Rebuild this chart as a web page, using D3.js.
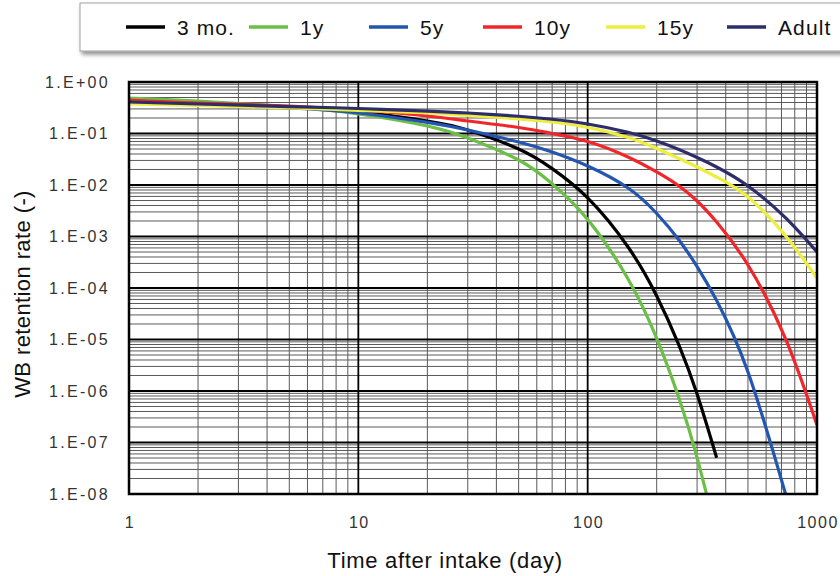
<!DOCTYPE html>
<html>
<head>
<meta charset="utf-8">
<script src="https://cdn.jsdelivr.net/npm/d3@7"></script>
<style>
  body { margin: 0; background: #fff; }
  svg { display: block; font-family: "Liberation Sans", Arial, sans-serif; }
</style>
</head>
<body>
<div id="chart"></div>
<script>
// days after intake (common x grid)
const days = [1, 2, 5, 10, 20, 30, 50, 70, 100, 150, 200, 250, 300, 365, 500, 730, 1000];

// WB retention rate per age group (null = no data)
const mo3   = [0.437, 0.391, 0.327, 0.262, 0.175, 0.117, 0.0500, 0.0208, 5.6e-3, 6.25e-4, 7.0e-5, 7.8e-6, 8.7e-7, 5.07e-8, null, null, null];
const y1    = [0.489, 0.428, 0.327, 0.239, 0.140, 0.0818, 0.0306, 0.01055, 2.14e-3, 1.50e-4, 1.05e-5, 7.3e-7, 5.1e-8, 1.6e-9, null, null, null];
const y5    = [0.428, 0.374, 0.313, 0.250, 0.164, 0.117, 0.0684, 0.0437, 0.0234, 8.74e-3, 2.80e-3, 8.55e-4, 2.61e-4, 5.7e-5, 2.34e-6, 9.8e-9, null];
const y10   = [0.447, 0.391, 0.342, 0.286, 0.219, 0.175, 0.131, 0.100, 0.0700, 0.0350, 0.0179, 9.57e-3, 4.89e-3, 1.91e-3, 2.80e-4, 1.02e-5, 2.19e-7];
const y15   = [0.374, 0.350, 0.313, 0.282, 0.250, 0.224, 0.193, 0.167, 0.131, 0.0836, 0.0511, 0.0327, 0.0224, 0.0143, 5.85e-3, 1.02e-3, 1.56e-4];
const adult = [0.409, 0.374, 0.334, 0.306, 0.273, 0.250, 0.216, 0.189, 0.153, 0.1055, 0.0715, 0.0489, 0.0342, 0.0224, 9.57e-3, 2.29e-3, 5.0e-4];

const seriesNames  = ["3 mo.", "1y", "5y", "10y", "15y", "Adult"];
const seriesValues = [mo3, y1, y5, y10, y15, adult];
const seriesColors = ["#000000", "#6cbf46", "#2356b0", "#f2262a", "#eeee3c", "#2d2d6b"];

const xTicks = [1, 10, 100, 1000];
const xTickLabels = ["1", "10", "100", "1000"];
const yTicks = [1, 1e-1, 1e-2, 1e-3, 1e-4, 1e-5, 1e-6, 1e-7, 1e-8];
const yTickLabels = ["1.E+00", "1.E-01", "1.E-02", "1.E-03", "1.E-04", "1.E-05", "1.E-06", "1.E-07", "1.E-08"];

const W = 840, H = 576;
const PLOT = { left: 129, right: 817, top: 82, bottom: 494 };

const svg = d3.select("#chart").append("svg")
  .attr("width", W).attr("height", H);

const x = d3.scaleLog().domain([1, 1000]).range([PLOT.left, PLOT.right]);
const y = d3.scaleLog().domain([1e-8, 1]).range([PLOT.bottom, PLOT.top]);

// ── Legend ──
const defs = svg.append("defs");
const shadow = defs.append("filter").attr("id", "shadow")
  .attr("x", "-5%").attr("y", "-30%").attr("width", "110%").attr("height", "170%");
shadow.append("feGaussianBlur").attr("in", "SourceAlpha").attr("stdDeviation", 2);
shadow.append("feOffset").attr("dx", 2).attr("dy", 3).attr("result", "off");
shadow.append("feComponentTransfer").append("feFuncA").attr("type", "linear").attr("slope", 0.45);
const merge = shadow.append("feMerge");
merge.append("feMergeNode");
merge.append("feMergeNode").attr("in", "SourceGraphic");

svg.append("rect")
  .attr("x", 80).attr("y", 3).attr("width", 790).attr("height", 48)
  .attr("fill", "#fff").attr("stroke", "#a0a0a0").attr("stroke-width", 1)
  .attr("filter", "url(#shadow)");

const legendLineX = [126, 249, 369, 483, 606, 727];
const legendG = svg.append("g").attr("class", "legend");
seriesNames.forEach((name, i) => {
  legendG.append("line")
    .attr("x1", legendLineX[i]).attr("x2", legendLineX[i] + 39)
    .attr("y1", 27).attr("y2", 27)
    .attr("stroke", seriesColors[i]).attr("stroke-width", 3.5);
  legendG.append("text")
    .attr("x", legendLineX[i] + 51).attr("y", 27)
    .attr("dominant-baseline", "central")
    .style("font-size", "21px").style("fill", "#111").style("letter-spacing", "1.1px")
    .text(name);
});

// ── Grid ──
const gridG = svg.append("g").attr("class", "grid");
const minorX = [], minorY = [];
for (let e = 0; e < 3; e++) for (let k = 2; k <= 9; k++) minorX.push(k * Math.pow(10, e));
for (let e = -8; e < 0; e++) for (let k = 2; k <= 9; k++) minorY.push(k * Math.pow(10, e));

gridG.selectAll("line.minor-x").data(minorX).join("line")
  .attr("class", "minor-x")
  .attr("x1", d => x(d)).attr("x2", d => x(d))
  .attr("y1", PLOT.top).attr("y2", PLOT.bottom)
  .attr("stroke", "#5a5a5a").attr("stroke-width", 1);

gridG.selectAll("line.minor-y").data(minorY).join("line")
  .attr("class", "minor-y")
  .attr("x1", PLOT.left).attr("x2", PLOT.right)
  .attr("y1", d => y(d)).attr("y2", d => y(d))
  .attr("stroke", "#5a5a5a").attr("stroke-width", 1);

gridG.selectAll("line.major-x").data(xTicks).join("line")
  .attr("class", "major-x")
  .attr("x1", d => x(d)).attr("x2", d => x(d))
  .attr("y1", PLOT.top).attr("y2", PLOT.bottom)
  .attr("stroke", "#000").attr("stroke-width", 1.8);

gridG.selectAll("line.major-y").data(yTicks).join("line")
  .attr("class", "major-y")
  .attr("x1", PLOT.left).attr("x2", PLOT.right)
  .attr("y1", d => y(d)).attr("y2", d => y(d))
  .attr("stroke", "#000").attr("stroke-width", 1.8);

// ── Curves ──
defs.append("clipPath").attr("id", "plot-clip")
  .append("rect")
  .attr("x", PLOT.left).attr("y", PLOT.top)
  .attr("width", PLOT.right - PLOT.left).attr("height", PLOT.bottom - PLOT.top);

const line = d3.line()
  .defined(d => d.v != null)
  .x(d => x(d.t))
  .y(d => y(d.v))
  .curve(d3.curveNatural);

const curveG = svg.append("g").attr("clip-path", "url(#plot-clip)");
seriesValues.forEach((vals, i) => {
  const pts = days.map((t, j) => ({ t, v: vals[j] }));
  curveG.append("path")
    .attr("d", line(pts))
    .attr("fill", "none")
    .attr("stroke", seriesColors[i])
    .attr("stroke-width", 3.2)
    .attr("stroke-linejoin", "round");
});

// plot frame
svg.append("rect")
  .attr("x", PLOT.left).attr("y", PLOT.top)
  .attr("width", PLOT.right - PLOT.left).attr("height", PLOT.bottom - PLOT.top)
  .attr("fill", "none").attr("stroke", "#000").attr("stroke-width", 2.5);

// ── Tick labels ──
svg.append("g").selectAll("text").data(yTicks).join("text")
  .attr("x", 110).attr("y", d => y(d))
  .attr("dominant-baseline", "central")
  .style("text-anchor", "end")
  .style("font-size", "16px").style("fill", "#333").style("letter-spacing", "2.3px")
  .text((d, i) => yTickLabels[i]);

svg.append("g").selectAll("text").data(xTicks).join("text")
  .attr("x", d => x(d) + 1).attr("y", 522)
  .attr("dominant-baseline", "central")
  .style("text-anchor", "middle")
  .style("font-size", "16px").style("fill", "#333").style("letter-spacing", "1.5px")
  .text((d, i) => xTickLabels[i]);

// ── Axis titles ──
svg.append("text")
  .attr("x", 445).attr("y", 560)
  .attr("dominant-baseline", "central")
  .style("text-anchor", "middle")
  .style("font-size", "22px").style("fill", "#111").style("letter-spacing", "0.7px")
  .text("Time after intake (day)");

svg.append("text")
  .attr("transform", `translate(22,294) rotate(-90)`)
  .attr("dominant-baseline", "central")
  .style("text-anchor", "middle")
  .style("font-size", "22px").style("fill", "#111").style("letter-spacing", "0.4px")
  .text("WB retention rate (-)");
</script>
</body>
</html>
